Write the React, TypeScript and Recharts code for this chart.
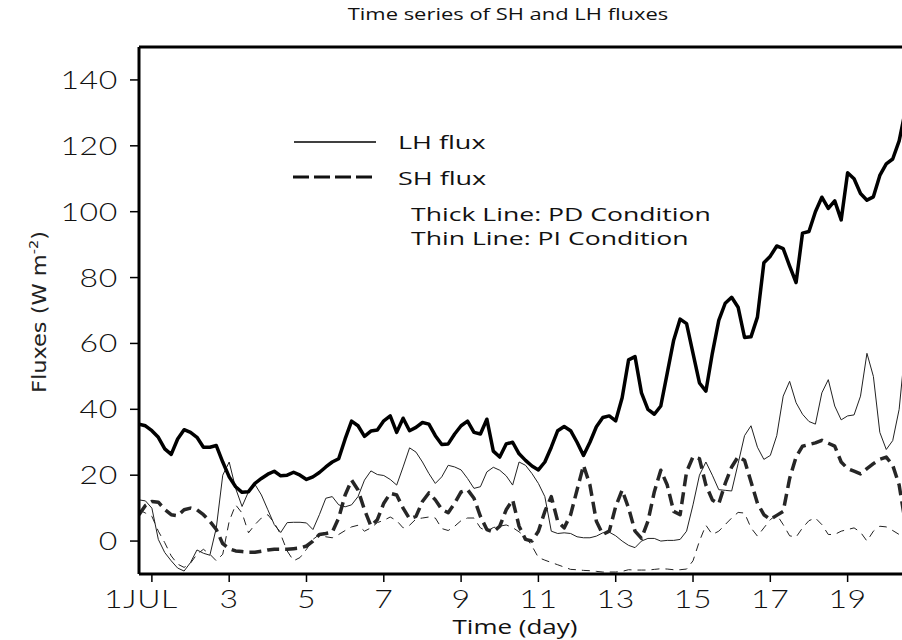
import React from 'react';
import { LineChart, Line, XAxis, YAxis, ReferenceLine } from 'recharts';

// 4-hourly samples, first sample at day 1 - 2/6
const START_DAY = 4 / 6;
const STEP_DAY = 1 / 6;
const X_MAX = 20.407;

// LH flux, PD condition (thick solid)
const lhPD = [
  35.5, 35, 33.5, 31.5, 28, 26.3, 31, 33.8, 33, 31.5,
  28.5, 28.5, 29, 24, 19.5, 16.5, 14.8, 15, 17.5, 19,
  20.3, 21.2, 19.8, 20, 20.9, 20, 18.7, 19.5, 20.8, 22.5,
  24, 25, 31, 36.4, 35, 31.8, 33.4, 33.7, 36.5, 38,
  33, 37.3, 33.5, 34.5, 36, 35.5, 32, 29.3, 29.5, 32.5,
  35, 36.4, 33, 32.5, 37, 27.3, 25.5, 29.5, 30, 26.5,
  24.5, 22.8, 21.6, 24, 28.5, 33.5, 34.8, 33.5, 30, 26,
  30, 34.7, 37.5, 38, 36.5, 43.5, 55, 56, 45, 40,
  38.5, 41, 51, 61, 67.4, 66, 57, 48, 45.5, 57,
  67, 72.2, 74, 71, 61.8, 62, 68, 84.5, 86.5, 89.6,
  88.8, 83.5, 78.5, 93.5, 94, 100, 104.4, 101, 103.3, 97.5,
  111.8, 110, 105.5, 103.5, 104.5, 111, 114.5, 116, 121.5, 131,
];

// LH flux, PI condition (thin solid)
const lhPI = [
  12.5, 12.2, 10, 0.5, -3.5, -6, -8.2, -9.1, -6.5, -2.7,
  -3.7, -4.3, 4, 20, 24, 16, 10.5, 15, 17.2, 14,
  9.5, 5, 2.6, 5.6, 5.7, 5.7, 5.5, 3.5, 8, 13,
  13.5, 11, 10.4, 11, 13.5, 18.5, 21.3, 20.2, 19.9, 18.7,
  17, 22.5, 28.3, 27, 24, 20.5, 17.5, 19.5, 23, 22.5,
  21.6, 19, 16, 16.5, 21, 22.4, 21.5, 19.8, 17, 24,
  23, 20.5, 17.5, 13.5, 3, 2.3, 2.5, 2.3, 1.3, 1,
  1, 1.5, 2.5, 2.7, 1.6, 0, -1.3, -2, 0, 0.8,
  0.8, 0, 0.2, 0.2, 0.5, 3, 11, 20, 24, 20,
  15.6, 15.4, 15.2, 23.5, 32, 35, 28.5, 24.8, 26, 32,
  44, 48.5, 42, 38.5, 36.3, 35.5, 45, 49, 41, 36.8,
  38, 38.3, 44, 57, 50, 33, 27.8, 30.5, 40, 60,
];

// SH flux, PD condition (thick dashed)
const shPD = [
  8, 10.8, 12, 11.8, 9.6, 8, 7.7, 9.5, 10, 9.5,
  8, 6, 3.5, -0.8, -2.3, -3, -3.2, -3.4, -3.4, -3.1,
  -2.7, -2.5, -2.5, -2.5, -2.3, -2.1, -1.5, 0, 2, 2.3,
  2.7, 7, 14, 18.5, 15.5, 9.5, 4.6, 6.5, 11.5, 14.5,
  14, 10, 6.8, 7.5, 12, 14.6, 12.5, 9.6, 8.6, 11.5,
  14.9, 15.6, 13, 7.5, 3.5, 2.8, 4.5, 9.5, 12.5, 4.5,
  0.5, 0, 3, 9, 13.5, 6, 4, 8, 15.5, 23,
  17, 6, 2, 3, 10.5, 15.5, 10, 3, 0.8, 6,
  15, 21.5, 17, 9, 8, 21, 25.6, 25, 17, 12.5,
  11.3, 17.5, 22.5, 25.6, 24.5, 18, 11.5, 8, 6.6, 7.8,
  9, 19, 25.5, 28.8, 29.3, 29.8, 30.6, 29.7, 28.8, 24,
  22, 21.2, 20.4, 22, 23.5, 24.8, 25.5, 23, 17, 5,
];

// SH flux, PI condition (thin dashed)
const shPI = [
  9.5, 8.5, 7.5, 3, -0.5, -4.5, -7, -8, -6.7, -4,
  -2.5, -4, -6, -4, 6, 11, 8.5, 2.5, 5, 7,
  8, 5.5, 2, -3, -6, -5, -2.5, 0.5, 2, 1.3,
  1, 2, 3.2, 4.3, 4.8, 3, 4, 5.6, 6.3, 7.3,
  6.2, 4, 4.8, 6.7, 7, 7.3, 7, 3.8, 3.2, 4.5,
  6.2, 7, 7, 4, 3, 4.1, 4.5, 4.9, 4.1, 2.8,
  1.2, -1.5, -5, -5.8, -6.5, -7.2, -7.9, -8.6, -8.7, -8.9,
  -9, -9.2, -9.4, -9.4, -9.4, -9.2, -8.7, -8.8, -8.8, -8.8,
  -8.6, -8.4, -8.5, -8.7, -8.7, -8.5, -6, 0, 4.8, 2,
  3, 5, 7, 8.7, 8.5, 4, 1.5, 4, 6.5, 8,
  5, 1.6, 1.2, 4, 6.2, 7, 5, 2, 2, 3,
  3.5, 4, 2.7, 0, 3, 4.5, 4.3, 3.2, 2, 1,
];

const xTicks = [1, 3, 5, 7, 9, 11, 13, 15, 17, 19];
const xTickLabels: Record<number, string> = { 1: '1JUL' };
const yTicks = [0, 20, 40, 60, 80, 100, 120, 140];

const data = lhPD.map((v, i) => ({
  t: START_DAY + i * STEP_DAY,
  lhPD: v,
  lhPI: lhPI[i],
  shPD: shPD[i],
  shPI: shPI[i],
}));

const axisFont = "Lato, 'Liberation Sans', Arial, sans-serif";
const textFont = "'Open Sans', 'Noto Sans', sans-serif";
const STRETCH = 1.28;

function XTick(props: any) {
  const { x, y, payload } = props;
  const v = payload.value;
  const label = xTickLabels[v] ?? String(v);
  const first = v === 1;
  return (
    <g transform={`translate(${first ? x + 26 : x},${y}) scale(${STRETCH},1)`}>
      <text
        x={0}
        y={0}
        dy="0.72em"
        textAnchor={first ? 'end' : 'middle'}
        fontFamily={axisFont}
        fontWeight={300}
        fontSize={25}
        letterSpacing={0.5}
        fill="#111"
      >
        {label}
      </text>
    </g>
  );
}

function YTick(props: any) {
  const { x, y, payload } = props;
  return (
    <g transform={`translate(${x},${y}) scale(${STRETCH},1)`}>
      <text
        x={0}
        y={0}
        dy="0.36em"
        textAnchor="end"
        fontFamily={axisFont}
        fontWeight={300}
        fontSize={25}
        letterSpacing={0.5}
        fill="#111"
      >
        {payload.value}
      </text>
    </g>
  );
}

function SText(props: { x: number; y: number; size: number; sx: number; anchor?: string; children: React.ReactNode }) {
  const { x, y, size, sx, anchor, children } = props;
  return (
    <g transform={`translate(${x},${y}) scale(${sx},1)`}>
      <text x={0} y={0} textAnchor={anchor || 'start'} fontFamily={textFont} fontSize={size} fill="#111">
        {children}
      </text>
    </g>
  );
}

export default function App() {
  return (
    <div style={{ position: 'absolute', left: 0, top: 0, width: 902, height: 640, background: '#fff', overflow: 'hidden' }}>
      <LineChart width={902} height={640} data={data} margin={{ top: 47, right: 0, bottom: 0, left: 0 }}>
        <XAxis
          dataKey="t"
          type="number"
          domain={[START_DAY, X_MAX]}
          ticks={xTicks}
          interval={0}
          allowDataOverflow
          height={66}
          tickSize={8}
          tickMargin={8}
          axisLine={{ stroke: '#000', strokeWidth: 3 }}
          tickLine={{ stroke: '#000', strokeWidth: 1.5 }}
          tick={<XTick />}
        />
        <YAxis
          type="number"
          domain={[-10, 150]}
          ticks={yTicks}
          interval={0}
          allowDataOverflow
          width={139}
          tickSize={9}
          tickMargin={12}
          axisLine={{ stroke: '#000', strokeWidth: 3 }}
          tickLine={{ stroke: '#000', strokeWidth: 1.5 }}
          tick={<YTick />}
        />
        <ReferenceLine y={150} stroke="#000" strokeWidth={3} />
        <Line dataKey="shPI" stroke="#222" strokeWidth={1} strokeDasharray="8 6" dot={false} isAnimationActive={false} />
        <Line dataKey="lhPI" stroke="#222" strokeWidth={1} dot={false} isAnimationActive={false} />
        <Line dataKey="shPD" stroke="#262626" strokeWidth={3.5} strokeDasharray="12 6" strokeLinejoin="round" dot={false} isAnimationActive={false} />
        <Line dataKey="lhPD" stroke="#000" strokeWidth={3.5} strokeLinejoin="round" dot={false} isAnimationActive={false} />
      </LineChart>
      <svg width={902} height={640} style={{ position: 'absolute', left: 0, top: 0, pointerEvents: 'none' }}>
        <SText x={508} y={20} size={16.5} sx={1.33} anchor="middle">Time series of SH and LH fluxes</SText>
        <SText x={515} y={634} size={20} sx={1.3} anchor="middle">Time (day)</SText>
        <g transform="translate(46,312) rotate(-90) scale(1.25,1)">
          <text
            x={0}
            y={0}
            textAnchor="middle"
            fontFamily="'Liberation Sans Narrow', 'DejaVu Sans Condensed', sans-serif"
            fontSize={20}
            fill="#222"
          >
            Fluxes (W m
            <tspan dy={-8} fontSize={13}>-2</tspan>
            <tspan dy={8}>)</tspan>
          </text>
        </g>
        <line x1={294} y1={142} x2={376} y2={142} stroke="#000" strokeWidth={1.3} />
        <line x1={293} y1={177} x2={377} y2={177} stroke="#111" strokeWidth={3} strokeDasharray="16 5" />
        <SText x={398} y={149} size={19} sx={1.42}>LH flux</SText>
        <SText x={398} y={185} size={19} sx={1.42}>SH flux</SText>
        <SText x={411} y={221} size={19} sx={1.4}>Thick Line: PD Condition</SText>
        <SText x={411} y={245} size={19} sx={1.4}>Thin Line: PI Condition</SText>
      </svg>
    </div>
  );
}
